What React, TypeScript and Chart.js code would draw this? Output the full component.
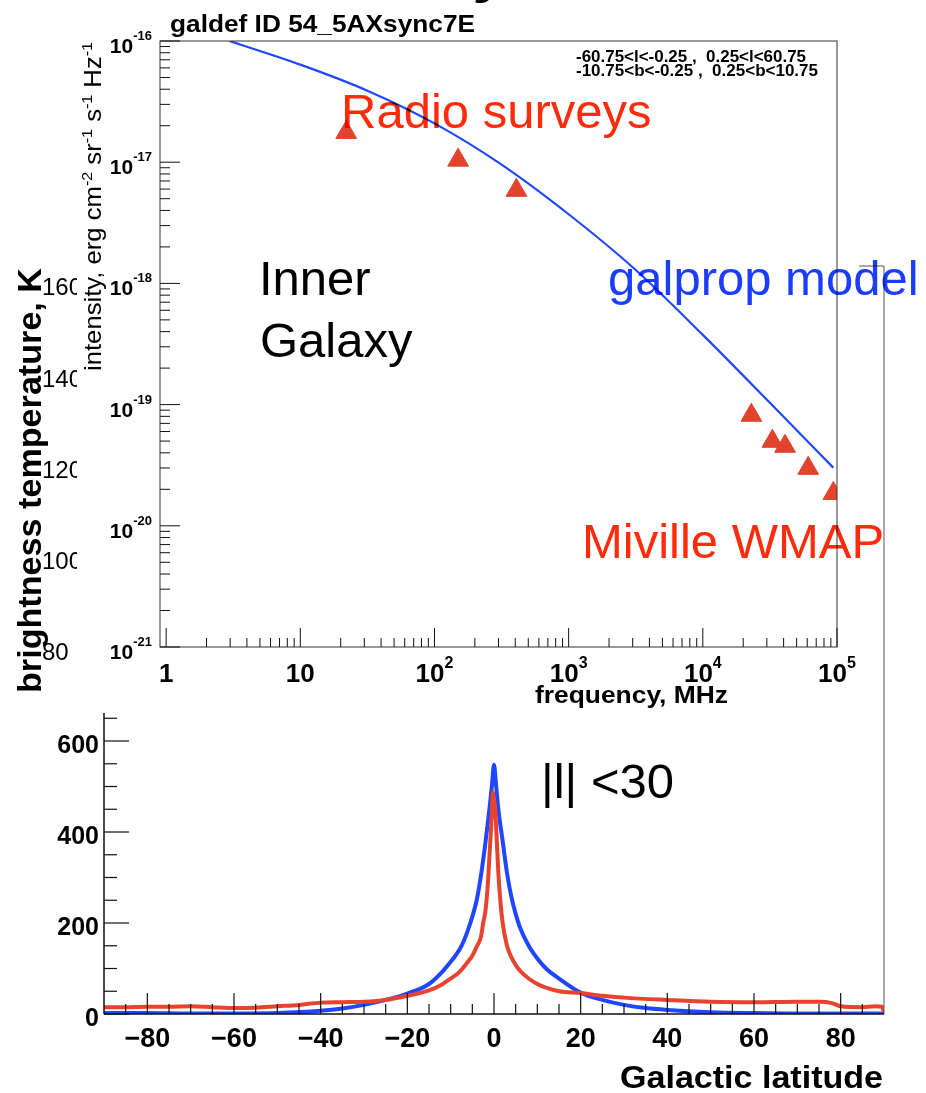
import React, { useEffect, useRef } from 'react';
import { Chart, registerables } from 'chart.js';

Chart.register(...registerables);

// ---------- upper panel: synchrotron spectrum of the inner Galaxy ----------
const RADIO_FREQ_MHZ = [22, 150, 408];
const RADIO_INTENSITY = [1.76e-17, 1.04e-17, 5.86e-18];
const WMAP_FREQ_MHZ = [23000, 33000, 41000, 61000, 94000];
const WMAP_INTENSITY = [8.17e-20, 4.98e-20, 4.53e-20, 2.98e-20, 1.85e-20];
const MODEL_FREQ_MHZ = [2.965, 10, 31.62, 100, 316.2, 1000, 3162, 10000, 31620, 93760];
const MODEL_INTENSITY = [1.0e-16, 6.38e-17, 3.89e-17, 2.09e-17, 9.55e-18, 3.72e-18, 1.29e-18, 3.76e-19, 1.035e-19, 3.02e-20];
const FREQ_TICK_EXP = [0, 1, 2, 3, 4, 5];
const INTENSITY_TICK_EXP = [-21, -20, -19, -18, -17, -16];
const TITLE_TEXT = 'galdef ID 54_5AXsync7E';
const REGION_LINES = ['-60.75<l<-0.25 ,  0.25<l<60.75', '-10.75<b<-0.25 ,  0.25<b<10.75'];

// ---------- lower panel: latitude profile ----------
const LATITUDE_BLUE = [-90, -80, -70, -60, -50, -40, -35, -30, -25, -20, -15, -12, -10, -9, -8, -7, -6, -5, -4, -3, -2, -1, -0.5, 0, 0.5, 1, 2, 3, 4, 5, 6, 8, 10, 12, 15, 20, 25, 30, 35, 40, 50, 60, 70, 80, 90];
const BLUE_TEMPERATURE = [2, 2, 1, 1, 2, 7, 12, 20, 31, 45, 66, 92, 115, 127, 141, 160, 185, 214, 250, 305, 375, 455, 500, 548, 500, 450, 380, 310, 258, 220, 190, 150, 122, 100, 78, 47, 31, 20, 13, 9, 4, 2, 1, 1, 1];
const LATITUDE_RED = [-90, -85, -80, -75, -70, -65, -60, -55, -50, -45, -40, -35, -30, -25, -20, -15, -12, -10, -8, -6, -5, -4, -3, -2.5, -2, -1.5, -1, -0.5, -0.25, 0, 0.25, 0.5, 1, 1.5, 2, 3, 4, 5, 6, 8, 10, 12, 15, 20, 25, 30, 40, 50, 60, 70, 75, 78, 80, 85, 88, 89.5, 90];
const RED_TEMPERATURE = [15, 15, 16, 16, 17, 15, 13, 14, 17, 20, 25, 26, 27, 31, 40, 52, 65, 78, 92, 115, 128, 148, 170, 200, 225, 275, 355, 440, 488, 470, 455, 410, 310, 245, 200, 150, 125, 108, 95, 78, 66, 58, 50, 46, 40, 36, 31, 27, 26, 27, 27, 24, 17, 15, 17, 16, 5];
const LAT_TICKS = [-80, -60, -40, -20, 0, 20, 40, 60, 80];
const PROFILE_TICKS = [0, 200, 400, 600];
const BRIGHTNESS_TICKS = [80, 100, 120, 140, 160];

const FONT = '"Liberation Sans", Arial, Helvetica, sans-serif';

type Run = { t: string; sup?: boolean };

function fillRuns(
  ctx: CanvasRenderingContext2D,
  runs: Run[],
  x: number,
  y: number,
  font: string,
  supFont: string,
  rise: number,
  align: 'left' | 'right' | 'center',
  length?: number,
  rotate?: boolean
) {
  ctx.save();
  const ws = runs.map((r) => {
    ctx.font = r.sup ? supFont : font;
    return ctx.measureText(r.t).width;
  });
  const total = ws.reduce((a, b) => a + b, 0) || 1;
  const s = length ? length / total : 1;
  ctx.translate(x, y);
  if (rotate) ctx.rotate(-Math.PI / 2);
  ctx.scale(s, 1);
  let cx = align === 'left' ? 0 : align === 'right' ? -total : -total / 2;
  ctx.textAlign = 'left';
  ctx.textBaseline = 'alphabetic';
  runs.forEach((r, i) => {
    ctx.font = r.sup ? supFont : font;
    ctx.fillText(r.t, cx, r.sup ? -rise : 0);
    cx += ws[i];
  });
  ctx.restore();
}

function seg(ctx: CanvasRenderingContext2D, x1: number, y1: number, x2: number, y2: number) {
  ctx.beginPath();
  ctx.moveTo(x1, y1);
  ctx.lineTo(x2, y2);
  ctx.stroke();
}

const spectrumAxes = {
  id: 'spectrumAxes',
  afterDraw(chart: any) {
    const { ctx, chartArea: a } = chart;
    const x = chart.scales.x;
    const y = chart.scales.y;
    ctx.save();
    ctx.strokeStyle = '#333';
    ctx.fillStyle = '#000';
    ctx.lineWidth = 1;
    ctx.strokeRect(a.left, a.top, a.right - a.left, a.bottom - a.top);
    ctx.strokeStyle = '#111';
    // y ticks
    INTENSITY_TICK_EXP.forEach((e) => {
      const py = y.getPixelForValue(Math.pow(10, e));
      seg(ctx, a.left, py, a.left + 20, py);
      if (e < -16) {
        for (let m = 2; m <= 9; m++) {
          const p = y.getPixelForValue(m * Math.pow(10, e));
          seg(ctx, a.left, p, a.left + 10, p);
        }
      }
      fillRuns(ctx, [{ t: '10' }, { t: String(e), sup: true }], a.left - 8, py + 12,
        `bold 21px ${FONT}`, `bold 13px ${FONT}`, 13, 'right');
    });
    // x ticks
    FREQ_TICK_EXP.forEach((e) => {
      const px = x.getPixelForValue(Math.pow(10, e));
      seg(ctx, px, a.bottom, px, a.bottom - 19);
      if (e < 5) {
        for (let m = 2; m <= 9; m++) {
          const p = x.getPixelForValue(m * Math.pow(10, e));
          seg(ctx, p, a.bottom, p, a.bottom - 9);
        }
      }
      const runs: Run[] = e === 0 ? [{ t: '1' }] : e === 1 ? [{ t: '10' }] : [{ t: '10' }, { t: String(e), sup: true }];
      fillRuns(ctx, runs, px, a.bottom + 35, `bold 26px ${FONT}`, `bold 16px ${FONT}`, 14, 'center');
    });
    // titles
    fillRuns(ctx, [{ t: TITLE_TEXT }], a.left + 10, a.top - 9, `bold 24px ${FONT}`, '', 0, 'left', 305);
    fillRuns(ctx, [{ t: REGION_LINES[0] }], a.left + 416, a.top + 21, `bold 16px ${FONT}`, '', 0, 'left', 230);
    fillRuns(ctx, [{ t: REGION_LINES[1] }], a.left + 416, a.top + 35, `bold 16px ${FONT}`, '', 0, 'left', 242);
    fillRuns(ctx, [{ t: 'frequency, MHz' }], a.left + 375, a.bottom + 56, `bold 23px ${FONT}`, '', 0, 'left', 193);
    fillRuns(
      ctx,
      [
        { t: 'intensity, erg cm' }, { t: '-2', sup: true },
        { t: ' sr' }, { t: '-1', sup: true },
        { t: ' s' }, { t: '-1', sup: true },
        { t: ' Hz' }, { t: '-1', sup: true },
      ],
      a.left - 59, a.top + 330, `24px ${FONT}`, `15px ${FONT}`, 9, 'left', 329, true
    );
    ctx.restore();
  },
};

const profileAxes = {
  id: 'profileAxes',
  afterDraw(chart: any) {
    const { ctx, chartArea: a } = chart;
    const x = chart.scales.x;
    const y = chart.scales.y;
    const y2 = chart.scales.y2;
    ctx.save();
    ctx.fillStyle = '#000';
    // frame
    ctx.strokeStyle = '#555';
    ctx.lineWidth = 1;
    seg(ctx, a.right, a.top, a.right, a.bottom);
    seg(ctx, a.left, a.top, a.right, a.top);
    ctx.strokeStyle = '#111';
    ctx.lineWidth = 1.5;
    seg(ctx, a.left, a.top, a.left, a.bottom);
    seg(ctx, a.left, a.bottom, a.right, a.bottom);
    ctx.lineWidth = 1.2;
    // x ticks
    for (let v = -85; v <= 85; v += 5) {
      const px = x.getPixelForValue(v);
      const major = LAT_TICKS.includes(v);
      seg(ctx, px, a.bottom, px, a.bottom - (major ? 21 : 10));
    }
    LAT_TICKS.forEach((v) => {
      const px = x.getPixelForValue(v);
      const label = v < 0 ? '\u2212' + String(-v) : String(v);
      fillRuns(ctx, [{ t: label }], px, a.bottom + 33, `bold 27px ${FONT}`, '', 0, 'center');
    });
    // y ticks
    for (let v = 0; v <= 650; v += 50) {
      const py = y.getPixelForValue(v);
      const major = PROFILE_TICKS.includes(v);
      seg(ctx, a.left, py, a.left + (major ? 25 : 13), py);
    }
    PROFILE_TICKS.forEach((v) => {
      const py = y.getPixelForValue(v);
      fillRuns(ctx, [{ t: String(v) }], a.left - 5, py + 12, `bold 25px ${FONT}`, '', 0, 'right');
    });
    fillRuns(ctx, [{ t: 'Galactic latitude' }], a.right - 1, a.bottom + 74, `bold 32px ${FONT}`, '', 0, 'right', 263);
    // underlying brightness-temperature axis labels
    BRIGHTNESS_TICKS.forEach((v) => {
      const py = y2.getPixelForValue(v);
      fillRuns(ctx, [{ t: String(v) }], a.left - 62, py + 8.5, `24px ${FONT}`, '', 0, 'left');
    });
    fillRuns(ctx, [{ t: 'brightness temperature, K' }], a.left - 63, 693, `bold 34px ${FONT}`, '', 0, 'left', 425, true);
    ctx.restore();
  },
};

function SpectrumChart() {
  const ref = useRef<HTMLCanvasElement | null>(null);
  useEffect(() => {
    if (!ref.current) return;
    const chart = new Chart(ref.current, {
      type: 'line',
      data: {
        datasets: [
          {
            label: 'Radio surveys',
            data: RADIO_FREQ_MHZ.map((f, i) => ({ x: f, y: RADIO_INTENSITY[i] })),
            showLine: false,
            pointStyle: 'triangle',
            pointRadius: 12,
            backgroundColor: '#e2432d',
            borderColor: '#e2432d',
            borderWidth: 1,
          },
          {
            label: 'Miville WMAP',
            data: WMAP_FREQ_MHZ.map((f, i) => ({ x: f, y: WMAP_INTENSITY[i] })),
            showLine: false,
            pointStyle: 'triangle',
            pointRadius: 12,
            backgroundColor: '#e2432d',
            borderColor: '#e2432d',
            borderWidth: 1,
          },
          {
            label: 'galprop model',
            data: MODEL_FREQ_MHZ.map((f, i) => ({ x: f, y: MODEL_INTENSITY[i] })),
            borderColor: '#1f48ff',
            borderWidth: 2.2,
            pointRadius: 0,
            cubicInterpolationMode: 'monotone',
            fill: false,
          },
        ],
      } as any,
      options: {
        responsive: false,
        animation: false,
        devicePixelRatio: 1,
        events: [],
        layout: { padding: { left: 83, top: 31, right: 22, bottom: 66 } },
        plugins: { legend: { display: false }, tooltip: { enabled: false }, title: { display: false } },
        scales: {
          x: { type: 'logarithmic', min: 0.9, max: 1e5, display: false },
          y: { type: 'logarithmic', min: 1e-21, max: 1e-16, display: false },
        },
      } as any,
      plugins: [spectrumAxes],
    });
    return () => chart.destroy();
  }, []);
  return <canvas ref={ref} width={782} height={703} style={{ display: 'block', width: 782, height: 703 }} />;
}

function ProfileChart() {
  const ref = useRef<HTMLCanvasElement | null>(null);
  useEffect(() => {
    if (!ref.current) return;
    const chart = new Chart(ref.current, {
      type: 'line',
      data: {
        datasets: [
          {
            label: 'data',
            data: LATITUDE_RED.map((b, i) => ({ x: b, y: RED_TEMPERATURE[i] })),
            borderColor: '#e8432e',
            borderWidth: 4,
            pointRadius: 0,
            cubicInterpolationMode: 'monotone',
            fill: false,
          },
          {
            label: 'model',
            data: LATITUDE_BLUE.map((b, i) => ({ x: b, y: BLUE_TEMPERATURE[i] })),
            borderColor: '#1e47ff',
            borderWidth: 4,
            pointRadius: 0,
            cubicInterpolationMode: 'monotone',
            fill: false,
          },
        ],
      } as any,
      options: {
        responsive: false,
        animation: false,
        devicePixelRatio: 1,
        events: [],
        layout: { padding: { left: 104, top: 266, right: 42, bottom: 79 } },
        plugins: { legend: { display: false }, tooltip: { enabled: false }, title: { display: false } },
        scales: {
          x: { type: 'linear', min: -90, max: 90, display: false },
          y: { type: 'linear', min: 0, max: 1644, display: false },
          y2: { type: 'linear', position: 'left', min: 0.66, max: 164.6, display: false },
        },
      } as any,
      plugins: [profileAxes],
    });
    return () => chart.destroy();
  }, []);
  return <canvas ref={ref} width={926} height={1093} style={{ display: 'block', width: 926, height: 1093 }} />;
}

function Txt(props: { x: number; base: number; size: number; color: string; text: string; bold?: boolean; italic?: boolean }) {
  const { x, base, size, color, text, bold, italic } = props;
  return (
    <div
      style={{
        position: 'absolute',
        left: x,
        top: base - size * 0.8465,
        fontFamily: FONT,
        fontSize: size,
        lineHeight: `${size}px`,
        fontWeight: bold ? 700 : 400,
        fontStyle: italic ? 'italic' : 'normal',
        color,
        whiteSpace: 'nowrap',
        mixBlendMode: 'multiply',
      }}
    >
      {text}
    </div>
  );
}

export default function App() {
  return (
    <div
      style={{
        position: 'absolute',
        left: 0,
        top: 0,
        width: 926,
        height: 1093,
        overflow: 'hidden',
        background: '#fff',
      }}
    >
      <div style={{ position: 'absolute', left: 0, top: 0 }}>
        <ProfileChart />
      </div>
      <Txt x={478} base={-10} size={64} color="#000" text="y" bold italic />
      <div style={{ position: 'absolute', left: 77, top: 10, width: 782, height: 703, background: '#fff' }}>
        <SpectrumChart />
      </div>
      <Txt x={341} base={128} size={49} color="#ff2b0b" text="Radio surveys" />
      <Txt x={608} base={295} size={49} color="#1a3dff" text="galprop model" />
      <Txt x={259} base={295} size={49} color="#000" text="Inner" />
      <Txt x={260} base={357} size={49} color="#000" text="Galaxy" />
      <Txt x={582} base={558} size={49} color="#ff2b0b" text="Miville WMAP" />
      <Txt x={541} base={798} size={49} color="#000" text="|l| <30" />
    </div>
  );
}
